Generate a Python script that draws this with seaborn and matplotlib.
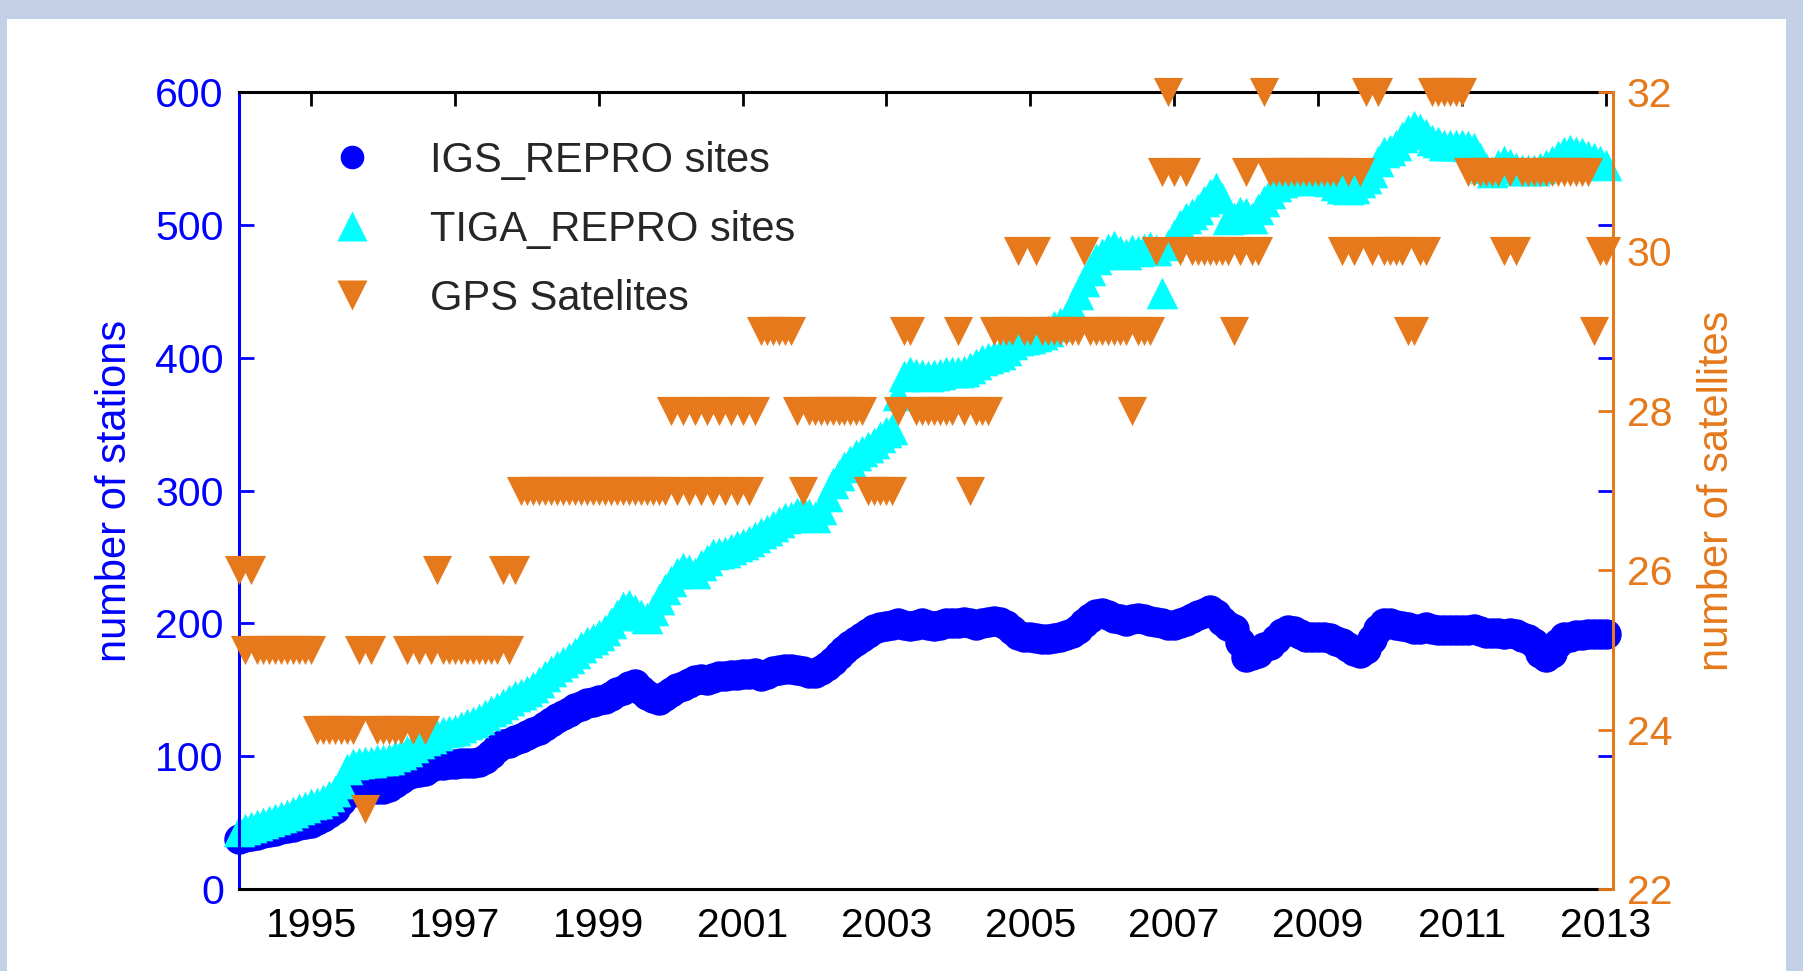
import numpy as np
import pandas as pd
import matplotlib
matplotlib.use("Agg")
import matplotlib.pyplot as plt
import seaborn as sns
from matplotlib.lines import Line2D
from matplotlib.patches import Rectangle

sns.set_style("white")
plt.rcParams['font.family'] = ['Liberation Sans', 'DejaVu Sans']

# monthly samples, Jan 1994 .. Jan 2013 (one row per year)
igs_sites = [
    38, 39, 40, 41, 42, 43, 44, 45, 46, 47, 48, 49,
    50, 52, 54, 57, 60, 66, 72, 73, 74, 74, 75, 75,
    75, 77, 80, 83, 86, 87, 88, 89, 92, 93, 93, 94,
    94, 95, 95, 95, 96, 98, 102, 106, 109, 110, 112, 114,
    116, 118, 120, 123, 126, 129, 131, 133, 136, 138, 140, 141,
    142, 143, 145, 148, 150, 153, 154, 150, 146, 144, 142, 145,
    148, 151, 153, 155, 157, 158, 157, 159, 160, 160, 161, 161,
    162, 162, 163, 160, 162, 164, 165, 166, 166, 165, 164, 163,
    163, 165, 168, 172, 176, 180, 184, 187, 190, 193, 196, 197,
    198, 199, 200, 199, 198, 199, 200, 199, 198, 199, 200, 200,
    200, 201, 200, 199, 200, 201, 202, 201, 199, 195, 191, 190,
    190, 189, 188, 188, 189, 190, 191, 193, 196, 200, 204, 207,
    208, 206, 204, 203, 202, 203, 204, 203, 202, 201, 200, 199,
    199, 200, 202, 204, 206, 208, 210, 207, 202, 198, 196, 186,
    175, 176, 178, 182, 184, 188, 193, 195, 194, 192, 190, 190,
    190, 190, 189, 187, 185, 182, 179, 178, 181, 188, 196, 200,
    200, 199, 198, 197, 196, 196, 197, 196, 195, 195, 195, 195,
    195, 195, 196, 194, 193, 193, 193, 192, 193, 192, 190, 188,
    185, 178, 175, 178, 185, 190, 190, 191, 191, 192, 192, 192,
    192,
]

tiga_sites = [
    44, 45, 47, 48, 50, 51, 53, 54, 56, 58, 60, 62,
    64, 65, 67, 70, 74, 80, 90, 94, 95, 96, 96, 97,
    97, 98, 100, 102, 104, 107, 110, 112, 114, 116, 118, 119,
    120, 122, 124, 126, 128, 131, 134, 136, 139, 142, 145, 147,
    149, 152, 156, 160, 164, 168, 171, 174, 178, 182, 186, 188,
    191, 195, 200, 206, 212, 214, 210, 206, 204, 210, 218, 226,
    232, 238, 242, 240, 238, 244, 248, 252, 253, 254, 256, 258,
    260, 262, 265, 268, 270, 273, 276, 279, 280, 283, 285, 282,
    280, 286, 296, 306, 312, 318, 322, 327, 330, 333, 336, 340,
    344, 346, 372, 386, 389, 388, 387, 386, 387, 388, 389, 389,
    389, 390, 392, 395, 398, 400, 401, 403, 406, 410, 413, 414,
    415, 416, 418, 420, 424, 426, 430, 438, 448, 458, 466, 474,
    478, 482, 484, 480, 478, 481, 480, 482, 483, 481, 449, 485,
    492, 500, 505, 508, 512, 518, 523, 528, 520, 504, 505, 510,
    509, 505, 512, 518, 524, 529, 532, 534, 535, 536, 535, 534,
    535, 534, 533, 530, 528, 527, 528, 532, 535, 540, 548, 555,
    556, 560, 566, 571, 574, 572, 568, 564, 562, 560, 560, 560,
    560, 559, 558, 550, 543, 540, 545, 548, 546, 543, 541, 541,
    541, 543, 545, 548, 552, 555, 556, 555, 554, 552, 550, 548,
    545,
]

gps_satellites = [
    26, 25, 26, 25, 25, 25, 25, 25, 25, 25, 25, 25,
    25, 24, 24, 24, 24, 24, 24, 24, 25, 23, 25, 24,
    24, 24, 24, 24, 25, 24, 25, 24, 25, 26, 25, 25,
    25, 25, 25, 25, 25, 25, 25, 25, 26, 25, 26, 27,
    27, 27, 27, 27, 27, 27, 27, 27, 27, 27, 27, 27,
    27, 27, 27, 27, 27, 27, 27, 27, 27, 27, 27, 27,
    28, 27, 28, 27, 28, 27, 28, 27, 28, 27, 28, 27,
    28, 27, 28, 29, 29, 29, 29, 29, 29, 28, 27, 28,
    28, 28, 28, 28, 28, 28, 28, 28, 28, 27, 27, 27,
    27, 27, 28, 29, 29, 28, 28, 28, 28, 28, 28, 28,
    29, 28, 27, 28, 28, 28, 29, 29, 29, 29, 30, 29,
    29, 30, 29, 29, 29, 29, 29, 29, 29, 30, 29, 29,
    29, 29, 29, 29, 29, 28, 29, 29, 29, 30, 31, 32,
    31, 30, 31, 30, 30, 30, 30, 30, 30, 30, 29, 30,
    31, 30, 30, 32, 31, 31, 31, 31, 31, 31, 31, 31,
    31, 31, 31, 31, 30, 31, 30, 31, 32, 30, 32, 30,
    30, 30, 30, 29, 29, 30, 30, 32, 32, 32, 32, 32,
    32, 31, 31, 31, 31, 31, 31, 30, 31, 30, 31, 31,
    31, 31, 31, 31, 31, 31, 31, 31, 31, 31, 29, 30,
    30,
]

year_ticks = [1995, 1997, 1999, 2001, 2003, 2005, 2007, 2009, 2011, 2013]
station_ticks = [0, 100, 200, 300, 400, 500, 600]
satellite_ticks = [22, 24, 26, 28, 30, 32]

df = pd.DataFrame({
    'year': 1994 + np.arange(len(igs_sites)) / 12,
    'igs': igs_sites,
    'tiga': tiga_sites,
    'gps': gps_satellites,
})

blue = '#0000ff'
cyan = '#00ffff'
orange = '#e5791c'

fig = plt.figure(figsize=(18.03, 9.71), dpi=100, facecolor='#c3d0e5')
fig.patches.append(Rectangle((7 / 1803, 0), 1779 / 1803, 952 / 971,
                             transform=fig.transFigure, facecolor='white',
                             edgecolor='none', zorder=-5))

ax = fig.add_axes([0.1326, 0.0844, 0.762, 0.8209])
ax.set_facecolor('white')
sns.scatterplot(data=df, x='year', y='igs', ax=ax, color=blue, marker='o',
                s=480, linewidth=0, clip_on=False)
sns.scatterplot(data=df, x='year', y='tiga', ax=ax, color=cyan, marker='^',
                s=520, linewidth=0, clip_on=False)

ax2 = ax.twinx()
sns.scatterplot(data=df, x='year', y='gps', ax=ax2, color=orange, marker='v',
                s=440, linewidth=0, clip_on=False)

ax.set_xlim(1994.0, 2013.1)
ax.set_ylim(0, 600)
ax2.set_ylim(22, 32)
ax.set_xticks(year_ticks)
ax.set_yticks(station_ticks)
ax2.set_yticks(satellite_ticks)

ax.tick_params(axis='x', direction='in', length=10, width=2, top=True,
               labelsize=29.5, pad=13, colors='black')
ax.tick_params(axis='y', direction='in', length=10.5, width=2, left=True,
               right=True, labelsize=29.5, pad=11, color=blue, labelcolor=blue)
ax2.tick_params(axis='y', direction='in', length=10.5, width=2,
                labelsize=29.5, pad=10, color=orange, labelcolor=orange)

for side in ['top', 'bottom']:
    ax.spines[side].set_color('black')
    ax.spines[side].set_linewidth(2.2)
ax.spines['left'].set_color(blue)
ax.spines['left'].set_linewidth(2.2)
ax.spines['right'].set_visible(False)
for side in ['top', 'bottom', 'left']:
    ax2.spines[side].set_visible(False)
ax2.spines['right'].set_color(orange)
ax2.spines['right'].set_linewidth(2.2)

ax.set_xlabel('')
ax.set_ylabel('number of stations', fontsize=30, color=blue)
ax.yaxis.set_label_coords(-0.076, 0.5)
ax2.set_ylabel('number of satellites', fontsize=30, color=orange)
ax2.yaxis.set_label_coords(1.061, 0.5)

handles = [
    Line2D([], [], ls='none', marker='o', ms=17, color=blue, mec='none'),
    Line2D([], [], ls='none', marker='^', ms=21, color=cyan, mec='none'),
    Line2D([], [], ls='none', marker='v', ms=21, color=orange, mec='none'),
]
labels = ['IGS_REPRO sites', 'TIGA_REPRO sites', 'GPS Satelites']
ax2.legend(handles, labels, loc='upper left', bbox_to_anchor=(0.067, 0.939),
           frameon=False, fontsize=30, handlelength=1.0, handletextpad=1.37,
           labelspacing=0.70, borderpad=0, borderaxespad=0)

fig.savefig('out.png', dpi=100, facecolor=fig.get_facecolor())
